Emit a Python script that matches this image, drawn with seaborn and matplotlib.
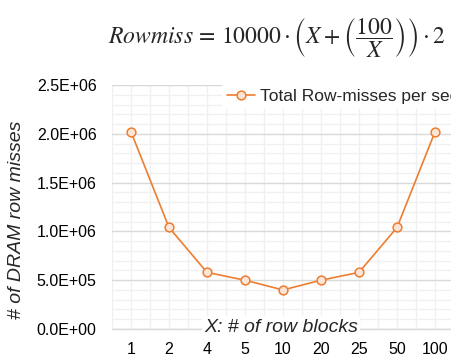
import matplotlib
matplotlib.use("Agg")
import matplotlib.pyplot as plt
import seaborn as sns
import pandas as pd
import numpy as np
from matplotlib.ticker import FuncFormatter, MultipleLocator, FixedLocator

# Data
blocks = ["1", "2", "4", "5", "10", "20", "25", "50", "100"]
row_misses = [2020000, 1040000, 580000, 500000, 400000, 500000, 580000, 1040000, 2020000]
series_name = "Total Row-misses per second"
y_ticks = [0, 500000, 1000000, 1500000, 2000000, 2500000]

df = pd.DataFrame({"X": blocks, "miss": row_misses, "series": series_name})

sns.set_style("white")
plt.rcParams["font.family"] = ["Liberation Sans", "DejaVu Sans"]
plt.rcParams["mathtext.fontset"] = "stix"

fig = plt.figure(figsize=(4.51, 3.62), dpi=100)
ax = fig.add_axes([112/451, 1-329/362, 342/451, (329-85)/362])

orange = "#ED7D31"
sns.lineplot(data=df, x="X", y="miss", hue="series", palette=[orange],
             marker="o", markersize=6.3, markerfacecolor="#FBE5D6",
             markeredgecolor=orange, markeredgewidth=1.1, linewidth=1.2,
             sort=False, ax=ax, zorder=5)

ax.set_xlim(-0.5, len(blocks) - 0.5)
ax.set_ylim(0, 2500000)
ax.set_yticks(y_ticks)
ax.yaxis.set_minor_locator(MultipleLocator(100000))
ax.xaxis.set_minor_locator(FixedLocator(np.arange(-0.5, len(blocks), 1.0)))
ax.yaxis.set_major_formatter(FuncFormatter(lambda v, p: f"{v:.1E}"))

ax.grid(which="major", axis="y", color="#D9D9D9", linewidth=1.0)
ax.grid(which="minor", axis="y", color="#F0F0F0", linewidth=1.0)
ax.grid(which="both", axis="x", color="#F0F0F0", linewidth=1.0)
ax.set_axisbelow(True)
for s in ["top", "right", "left"]:
    ax.spines[s].set_visible(False)
ax.spines["bottom"].set_color("#D9D9D9")
ax.spines["bottom"].set_linewidth(1.0)

ax.tick_params(axis="both", which="both", length=0, labelsize=11.5, colors="#000000")
ax.tick_params(axis="x", pad=9)
ax.tick_params(axis="y", pad=11)

ax.set_xlabel("")
ax.set_ylabel("# of DRAM row misses", fontsize=14, style="italic")
ax.yaxis.set_label_coords((25-112)/342, (329-220)/244)

ax.text((281-112)/342, (329-327)/244, "X: # of row blocks", transform=ax.transAxes,
        ha="center", va="center", fontsize=14, style="italic", zorder=6,
        bbox=dict(facecolor="white", edgecolor="none", pad=1.5))

leg = ax.legend(loc="upper left", bbox_to_anchor=((222-112)/342, 1.005), frameon=True,
                fontsize=12.5, handlelength=1.6, handletextpad=0.3, borderpad=0.3,
                borderaxespad=0.0)
leg.get_frame().set_edgecolor("none")
leg.get_frame().set_facecolor("white")
leg.get_frame().set_alpha(1.0)

fig.text(446/451, 1-38/362,
         r"$Rowmiss\,=\,10000\cdot\left(X+\left(\dfrac{100}{X}\right)\right)\cdot 2$",
         ha="right", va="center", fontsize=17)

fig.savefig("out.png", dpi=100)
